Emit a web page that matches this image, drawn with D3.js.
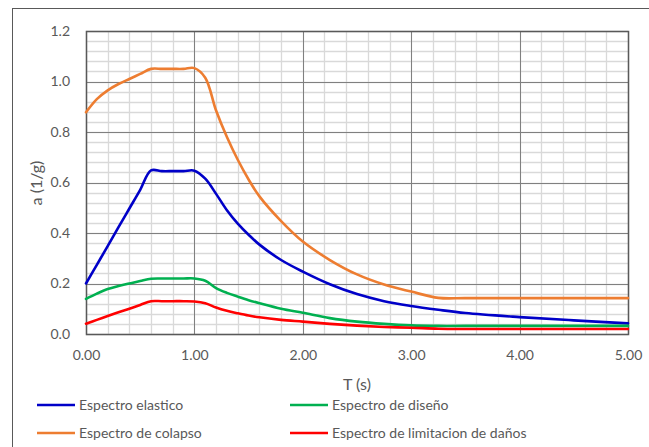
<!DOCTYPE html>
<html><head><meta charset="utf-8">
<script src="https://cdn.jsdelivr.net/npm/d3@7"></script>
<style>
html,body{margin:0;padding:0;background:#fff;}
text{font-family:Lato,"Open Sans",sans-serif;}
</style></head>
<body><svg id="c" width="649" height="447"></svg>
<script>
// ---- data ----
const periods = [0, 0.1, 0.2, 0.3, 0.4, 0.5, 0.6, 0.7, 0.8, 0.9, 1.0, 1.1, 1.2, 1.3, 1.4, 1.5, 1.6, 1.8, 2.0, 2.25, 2.5, 2.75, 3.0, 3.25, 3.5, 4.0, 4.5, 5.0];
const elastico = [0.200, 0.274, 0.348, 0.423, 0.497, 0.571, 0.648, 0.645, 0.645, 0.645, 0.647, 0.615, 0.555, 0.490, 0.437, 0.393, 0.354, 0.293, 0.247, 0.197, 0.158, 0.130, 0.111, 0.096, 0.083, 0.067, 0.054, 0.042];
const diseno = [0.139, 0.160, 0.178, 0.190, 0.200, 0.210, 0.219, 0.220, 0.220, 0.220, 0.220, 0.211, 0.182, 0.163, 0.148, 0.134, 0.122, 0.100, 0.084, 0.063, 0.049, 0.040, 0.034, 0.032, 0.032, 0.032, 0.032, 0.032];
const colapso = [0.878, 0.930, 0.965, 0.990, 1.010, 1.030, 1.050, 1.050, 1.050, 1.050, 1.053, 1.015, 0.885, 0.780, 0.690, 0.612, 0.545, 0.447, 0.366, 0.293, 0.236, 0.196, 0.168, 0.143, 0.142, 0.142, 0.142, 0.142];
const limitacion = [0.041, 0.056, 0.071, 0.086, 0.100, 0.115, 0.130, 0.130, 0.130, 0.130, 0.129, 0.122, 0.105, 0.092, 0.082, 0.073, 0.066, 0.056, 0.049, 0.040, 0.033, 0.028, 0.025, 0.021, 0.020, 0.020, 0.020, 0.020];
const seriesNames = ["Espectro elastico", "Espectro de diseño", "Espectro de colapso", "Espectro de limitacion de daños"];
const seriesColors = ["#0000C8", "#00B050", "#ED7D31", "#FF0000"];
const xTicks = [0, 1, 2, 3, 4, 5];
const yTicks = [0, 0.2, 0.4, 0.6, 0.8, 1.0, 1.2];
const xTitle = "T (s)";
const yTitle = "a (1/g)";

const seriesValues = [elastico, diseno, colapso, limitacion];

const svg = d3.select("#c");
const x = d3.scaleLinear().domain([0, 5]).range([86, 628]);
const y = d3.scaleLinear().domain([0, 1.2]).range([334, 31]);

// outer chart border
svg.append("rect").attr("x", 12.5).attr("y", 8.5).attr("width", 700).attr("height", 500)
  .attr("fill", "none").attr("stroke", "#595959").attr("stroke-width", 1);

// minor grid
const g = svg.append("g");
const minorX = d3.range(0, 5.0001, 0.2);
const minorY = d3.range(0, 1.2001, 0.04);
g.selectAll(".mx").data(minorX).enter().append("line")
  .attr("x1", d => Math.round(x(d)) + 0.5).attr("x2", d => Math.round(x(d)) + 0.5)
  .attr("y1", y(0)).attr("y2", y(1.2)).attr("stroke", "#D9D9D9").attr("stroke-width", 1.3);
g.selectAll(".my").data(minorY).enter().append("line")
  .attr("y1", d => Math.round(y(d)) + 0.5).attr("y2", d => Math.round(y(d)) + 0.5)
  .attr("x1", x(0)).attr("x2", x(5)).attr("stroke", "#D9D9D9").attr("stroke-width", 1.3);
// major grid
g.selectAll(".Mx").data(xTicks).enter().append("line")
  .attr("x1", d => Math.round(x(d)) + 0.5).attr("x2", d => Math.round(x(d)) + 0.5)
  .attr("y1", y(0)).attr("y2", y(1.2)).attr("stroke", "#808080").attr("stroke-width", 1);
g.selectAll(".My").data(yTicks).enter().append("line")
  .attr("y1", d => Math.round(y(d)) + 0.5).attr("y2", d => Math.round(y(d)) + 0.5)
  .attr("x1", x(0)).attr("x2", x(5)).attr("stroke", "#808080").attr("stroke-width", 1);
// plot border
svg.append("rect").attr("x", Math.round(x(0)) + 0.5).attr("y", Math.round(y(1.2)) + 0.5)
  .attr("width", Math.round(x(5)) - Math.round(x(0))).attr("height", Math.round(y(0)) - Math.round(y(1.2)))
  .attr("fill", "none").attr("stroke", "#595959").attr("stroke-width", 1.5);

// axes
const xAxis = svg.append("g").attr("transform", `translate(0,${y(0)})`)
  .call(d3.axisBottom(x).tickValues(xTicks).tickFormat(d3.format(".2f")).tickSize(0).tickPadding(16));
const yAxis = svg.append("g").attr("transform", `translate(${x(0)},0)`)
  .call(d3.axisLeft(y).tickValues(yTicks).tickFormat(d3.format(".1f")).tickSize(0).tickPadding(16));
[xAxis, yAxis].forEach(a => {
  a.select(".domain").remove();
  a.selectAll("text").attr("fill", "#595959").style("font-size", "14px").style("font-family", "Lato");
});

// lines
const line = d3.line().x(d => x(d[0])).y(d => y(d[1])).curve(d3.curveCatmullRom.alpha(0.5));
seriesValues.forEach((vals, i) => {
  svg.append("path").datum(periods.map((t, k) => [t, vals[k]]))
    .attr("d", line).attr("fill", "none").attr("stroke", seriesColors[i])
    .attr("stroke-width", 2.6).attr("stroke-linejoin", "round").attr("stroke-linecap", "round");
});

// axis titles
svg.append("text").attr("x", 357).attr("y", 390).attr("text-anchor", "middle")
  .attr("fill", "#595959").style("font-size", "16px").text(xTitle);
svg.append("text").attr("transform", "translate(42,183) rotate(-90)").attr("text-anchor", "middle")
  .attr("fill", "#595959").style("font-size", "16px").text(yTitle);

// legend
const legendPos = [[37, 405], [290, 405], [37, 433], [290, 433]];
seriesNames.forEach((name, i) => {
  const [lx, ly] = legendPos[i];
  svg.append("line").attr("x1", lx).attr("x2", lx + 38).attr("y1", ly).attr("y2", ly)
    .attr("stroke", seriesColors[i]).attr("stroke-width", 2.6);
  svg.append("text").attr("x", lx + 42).attr("y", ly + 5).attr("fill", "#595959")
    .style("font-size", "14px").text(name);
});
</script></body></html>
